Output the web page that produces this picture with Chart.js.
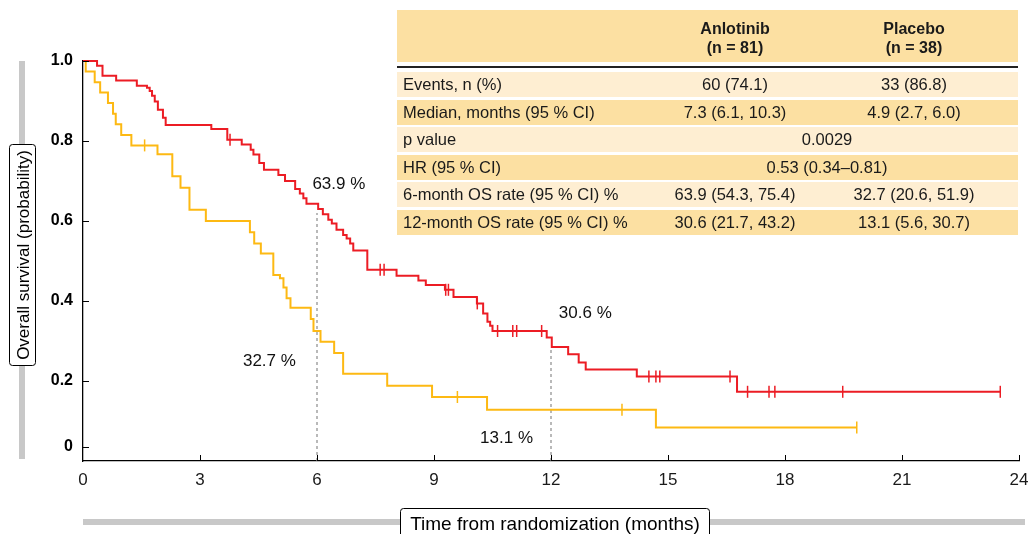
<!DOCTYPE html>
<html>
<head>
<meta charset="utf-8">
<title>Overall survival - Anlotinib vs Placebo</title>
<script src="https://cdn.jsdelivr.net/npm/chart.js"></script>
<style>
  body { margin: 0; background: #fff; font-family: "Liberation Sans", Arial, Helvetica, sans-serif; }
  #wrap { position: relative; width: 1033px; height: 534px; overflow: hidden; }
  #os-table { position: absolute; left: 397px; top: 10px; width: 621px; height: 225px; color: #1a1a1a; }
  .head { position: absolute; left: 0; top: 0; width: 621px; height: 52px; background: #fce0a2; font-weight: bold; font-size: 16px; line-height: 19px; }
  .head .cell { top: 9px; }
  .rule { position: absolute; left: 0; top: 56px; width: 621px; height: 2px; background: #222; }
  .row { position: absolute; left: 0; width: 621px; height: 25px; line-height: 25px; font-size: 16.5px; }
  .light { background: #feeed2; }
  .dark { background: #fce0a2; }
  .cell { position: absolute; top: 0; width: 220px; text-align: center; white-space: nowrap; }
  .cell.lab { left: 6px; text-align: left; width: 300px; }
</style>
</head>
<body>
<div id="wrap">
  <canvas id="osChart" width="1033" height="534"></canvas>
  <div id="os-table"></div>
</div>
<script>
// Kaplan-Meier steps (months, survival after the drop)
var anlotinibTime = [0, 0.36, 0.50, 0.85, 1.38, 1.64, 1.71, 1.77, 1.84, 1.92, 2.05, 2.12, 3.29, 3.70, 4.07, 4.30, 4.37, 4.52, 4.64, 5.01, 5.18, 5.44, 5.56, 5.65, 5.73, 6.03, 6.15, 6.29, 6.38, 6.50, 6.67, 6.76, 6.85, 6.93, 7.29, 8.04, 8.60, 8.79, 9.28, 9.50, 10.10, 10.26, 10.37, 10.44, 10.50, 11.89, 12.02, 12.44, 12.71, 12.89, 14.20, 16.77, 23.52];
var anlotinibSurv = [1.0, 0.988, 0.963, 0.951, 0.938, 0.933, 0.925, 0.913, 0.899, 0.878, 0.858, 0.840, 0.830, 0.803, 0.791, 0.778, 0.766, 0.745, 0.728, 0.715, 0.700, 0.680, 0.669, 0.657, 0.643, 0.630, 0.617, 0.603, 0.594, 0.578, 0.565, 0.556, 0.544, 0.526, 0.478, 0.463, 0.451, 0.440, 0.428, 0.410, 0.394, 0.369, 0.348, 0.338, 0.325, 0.309, 0.285, 0.267, 0.246, 0.229, 0.211, 0.173, 0.173];
var anlotinibCensor = [3.77, 7.62, 7.72, 9.30, 9.37, 10.11, 10.63, 11.02, 11.12, 11.76, 14.51, 14.69, 14.79, 16.59, 17.04, 17.59, 17.74, 19.48, 23.52];

var placeboTime = [0, 0.07, 0.30, 0.44, 0.64, 0.77, 0.84, 0.98, 1.24, 1.91, 2.29, 2.50, 2.73, 3.15, 4.28, 4.39, 4.56, 4.88, 5.05, 5.14, 5.22, 5.32, 5.84, 5.91, 6.09, 6.44, 6.67, 7.80, 8.95, 10.36, 14.69, 19.84];
var placeboSurv = [1.0, 0.974, 0.947, 0.921, 0.895, 0.868, 0.842, 0.815, 0.789, 0.767, 0.712, 0.683, 0.628, 0.600, 0.572, 0.544, 0.519, 0.465, 0.457, 0.434, 0.407, 0.383, 0.355, 0.325, 0.298, 0.270, 0.218, 0.188, 0.160, 0.128, 0.084, 0.084];
var placeboCensor = [1.58, 9.60, 13.82, 19.84];

// landmark guides at 6 and 12 months
var landmarkTime = [6, 12];
var landmarkTop = [0.62, 0.285];

var rateLabels = ['63.9 %', '30.6 %', '32.7 %', '13.1 %'];
var rateLabelX = [6.56, 12.88, 4.78, 10.86];
var rateLabelY = [0.6925, 0.37, 0.25, 0.0575];

var xTicks = [0, 3, 6, 9, 12, 15, 18, 21, 24];
var yTicks = [0.035, 0.2, 0.4, 0.6, 0.8, 1.0];
var yTickLabels = ['0', '0.2', '0.4', '0.6', '0.8', '1.0'];

var tableLabels = ['Events, n (%)', 'Median, months (95 % CI)', 'p value', 'HR (95 % CI)', '6-month OS rate (95 % CI) %', '12-month OS rate (95 % CI) %'];
var anlotinibCol = ['60 (74.1)', '7.3 (6.1, 10.3)', '', '', '63.9 (54.3, 75.4)', '30.6 (21.7, 43.2)'];
var placeboCol = ['33 (86.8)', '4.9 (2.7, 6.0)', '', '', '32.7 (20.6, 51.9)', '13.1 (5.6, 30.7)'];
var sharedCol = ['', '', '0.0029', '0.53 (0.34\u20130.81)', '', ''];

var RED = '#ec1c24';
var YELLOW = '#fdb913';
var FONT = '"Liberation Sans", Arial, Helvetica, sans-serif';

function pairs(xs, ys) {
    return xs.map(function(x, i) { return { x: x, y: ys[i] }; });
}

function survAt(times, surv, t) {
    var s = surv[0];
    for (var i = 0; i < times.length; i++) {
        if (times[i] <= t) s = surv[i];
    }
    return s;
}

function censorPoints(cens, times, surv) {
    return cens.map(function(t) { return { x: t, y: survAt(times, surv, t) }; });
}

function buildTable() {
    var t = document.getElementById('os-table');
    var html = '<div class="head">' +
        '<div class="cell" style="left:228px">Anlotinib<br>(n = 81)</div>' +
        '<div class="cell" style="left:407px">Placebo<br>(n = 38)</div></div>' +
        '<div class="rule"></div>';
    var tops = [62, 89.5, 117, 144.5, 172, 199.5];
    tableLabels.forEach(function(lab, i) {
        html += '<div class="row ' + (i % 2 === 0 ? 'light' : 'dark') + '" style="top:' + tops[i] + 'px">';
        html += '<div class="cell lab">' + lab + '</div>';
        if (sharedCol[i]) {
            html += '<div class="cell" style="left:320px">' + sharedCol[i] + '</div>';
        } else {
            html += '<div class="cell" style="left:228px">' + anlotinibCol[i] + '</div>';
            html += '<div class="cell" style="left:407px">' + placeboCol[i] + '</div>';
        }
        html += '</div>';
    });
    t.innerHTML = html;
}

function roundBox(ctx, x, y, w, h, r) {
    ctx.beginPath();
    ctx.moveTo(x + r, y);
    ctx.lineTo(x + w - r, y);
    ctx.quadraticCurveTo(x + w, y, x + w, y + r);
    ctx.lineTo(x + w, y + h - r);
    ctx.quadraticCurveTo(x + w, y + h, x + w - r, y + h);
    ctx.lineTo(x + r, y + h);
    ctx.quadraticCurveTo(x, y + h, x, y + h - r);
    ctx.lineTo(x, y + r);
    ctx.quadraticCurveTo(x, y, x + r, y);
    ctx.closePath();
}

var decor = {
    id: 'decor',
    beforeDraw: function(chart) {
        var ctx = chart.ctx, a = chart.chartArea;
        ctx.save();
        ctx.fillStyle = '#c8c8c8';
        ctx.fillRect(19, a.top, 6, a.bottom - a.top - 2);
        ctx.fillRect(a.left, 519, 942, 6);
        ctx.restore();
    },
    afterDraw: function(chart) {
        var ctx = chart.ctx, a = chart.chartArea;
        var xs = chart.scales.x, ys = chart.scales.y;
        ctx.save();
        // inward tick marks
        ctx.strokeStyle = '#000';
        ctx.lineWidth = 1;
        ys.ticks.forEach(function(t) {
            var py = Math.round(ys.getPixelForValue(t.value)) + 0.5;
            ctx.beginPath(); ctx.moveTo(a.left, py); ctx.lineTo(a.left + 6, py); ctx.stroke();
        });
        xs.ticks.forEach(function(t) {
            if (t.value === 0) return;
            var px = Math.round(xs.getPixelForValue(t.value)) + 0.5;
            ctx.beginPath(); ctx.moveTo(px, a.bottom); ctx.lineTo(px, a.bottom - 6); ctx.stroke();
        });

        // rate labels
        ctx.fillStyle = '#111';
        ctx.font = '17px ' + FONT;
        ctx.textAlign = 'center';
        ctx.textBaseline = 'middle';
        rateLabels.forEach(function(txt, i) {
            ctx.fillText(txt, xs.getPixelForValue(rateLabelX[i]), ys.getPixelForValue(rateLabelY[i]));
        });

        // boxed axis titles
        ctx.fillStyle = '#fff';
        ctx.strokeStyle = '#000';
        roundBox(ctx, 9.5, 144.5, 26, 221, 3);
        ctx.fill(); ctx.stroke();
        roundBox(ctx, 400.5, 508.5, 309, 34, 3);
        ctx.fill(); ctx.stroke();

        ctx.fillStyle = '#000';
        ctx.font = '19px ' + FONT;
        ctx.fillText('Time from randomization (months)', 555, 525);
        ctx.translate(23, 255);
        ctx.rotate(-Math.PI / 2);
        ctx.font = '17px ' + FONT;
        ctx.fillText('Overall survival (probability)', 0, 1);
        ctx.restore();
    }
};

var curveStyle = { borderWidth: 2, pointRadius: 0, stepped: 'before', fill: false, clip: false };
var censorStyle = { showLine: false, pointStyle: 'line', rotation: 90, pointRadius: 6, borderWidth: 1.5, clip: false };

buildTable();

var ctx = document.getElementById('osChart').getContext('2d');
var osChart = new Chart(ctx, {
    type: 'line',
    data: {
        datasets: [
            Object.assign({ label: 'Anlotinib censored', data: censorPoints(anlotinibCensor, anlotinibTime, anlotinibSurv), borderColor: RED }, censorStyle),
            Object.assign({ label: 'Placebo censored', data: censorPoints(placeboCensor, placeboTime, placeboSurv), borderColor: YELLOW }, censorStyle),
            Object.assign({ label: 'Anlotinib', data: pairs(anlotinibTime, anlotinibSurv), borderColor: RED }, curveStyle),
            Object.assign({ label: 'Placebo', data: pairs(placeboTime, placeboSurv), borderColor: YELLOW }, curveStyle),
            {
                label: '6 months',
                data: [{ x: landmarkTime[0], y: 0 }, { x: landmarkTime[0], y: landmarkTop[0] }],
                borderColor: '#8c8c8c', borderWidth: 1.2, borderDash: [3, 3], pointRadius: 0
            },
            {
                label: '12 months',
                data: [{ x: landmarkTime[1], y: 0 }, { x: landmarkTime[1], y: landmarkTop[1] }],
                borderColor: '#8c8c8c', borderWidth: 1.2, borderDash: [3, 3], pointRadius: 0
            }
        ]
    },
    options: {
        responsive: false,
        animation: false,
        layout: { padding: { top: 61, right: 14, left: 0, bottom: 0 } },
        plugins: { legend: { display: false }, tooltip: { enabled: false } },
        scales: {
            x: {
                type: 'linear', min: 0, max: 24,
                afterBuildTicks: function(s) { s.ticks = xTicks.map(function(v) { return { value: v }; }); },
                afterFit: function(s) { s.height = 73; s.paddingLeft = 0; s.paddingRight = 0; },
                grid: { display: false, drawTicks: false },
                border: { color: '#000', width: 1.3 },
                ticks: { color: '#1a1a1a', padding: 9, maxRotation: 0, font: { family: FONT, size: 17 } }
            },
            y: {
                type: 'linear', min: 0, max: 1,
                afterBuildTicks: function(s) { s.ticks = yTicks.map(function(v) { return { value: v }; }); },
                afterFit: function(s) { s.width = 83; s.paddingTop = 0; s.paddingBottom = 0; },
                grid: { display: false, drawTicks: false },
                border: { color: '#000', width: 1.3 },
                ticks: {
                    color: '#000', padding: 10,
                    font: { family: FONT, size: 16, weight: 'bold' },
                    callback: function(v, i) { return yTickLabels[i]; }
                }
            }
        }
    },
    plugins: [decor]
});
</script>
</body>
</html>
